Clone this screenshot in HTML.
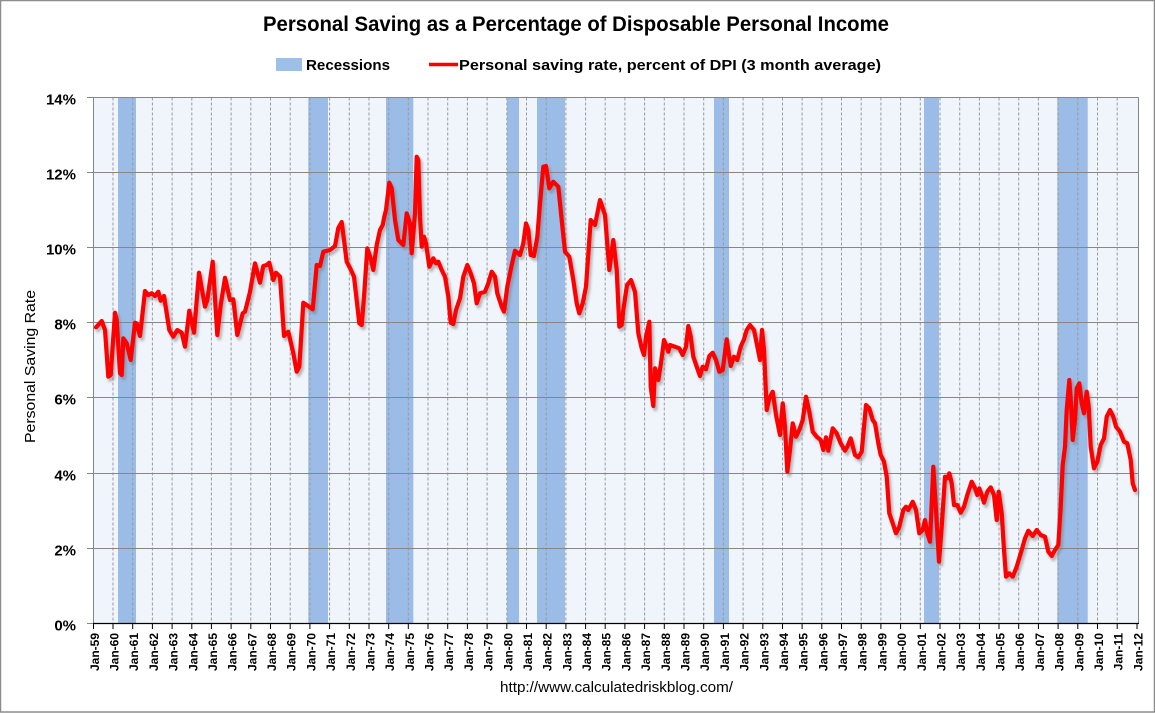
<!DOCTYPE html>
<html><head><meta charset="utf-8"><style>
html,body{margin:0;padding:0;background:#fff;}
svg{display:block;}
text{font-family:"Liberation Sans",Arial,sans-serif;fill:#000;}
</style></head><body>
<svg width="1155" height="713" viewBox="0 0 1155 713" xmlns="http://www.w3.org/2000/svg">
<defs>
<filter id="sh" x="-5%" y="-5%" width="110%" height="110%"><feGaussianBlur stdDeviation="1.4"/></filter>
</defs>
<rect x="0" y="0" width="1155" height="713" fill="#fff"/>
<rect x="0.5" y="0.5" width="1154" height="711.5" fill="none" stroke="#8c8c8c" stroke-width="1.5"/>

<!-- Title -->
<text x="263" y="31" font-size="21" font-weight="bold" textLength="626" lengthAdjust="spacingAndGlyphs">Personal Saving as a Percentage of Disposable Personal Income</text>

<!-- Legend -->
<rect x="276" y="58" width="26" height="13" fill="#9DC0E8"/>
<text x="306" y="70" font-size="15" font-weight="bold" textLength="84" lengthAdjust="spacingAndGlyphs">Recessions</text>
<line x1="429" y1="64.5" x2="458" y2="64.5" stroke="#ff0000" stroke-width="3.5"/>
<text x="459" y="70" font-size="15" font-weight="bold" textLength="422" lengthAdjust="spacingAndGlyphs">Personal saving rate, percent of DPI (3 month average)</text>

<!-- Plot background -->
<rect x="93.5" y="97.5" width="1045" height="526" fill="#F0F5FB"/>

<!-- Recession bands -->
<g fill="#9BBCE6">
<rect x="118" y="97.5" width="18" height="526"/>
<rect x="308.3" y="97.5" width="19.7" height="526"/>
<rect x="386" y="97.5" width="27.3" height="526"/>
<rect x="507" y="97.5" width="12" height="526"/>
<rect x="537" y="97.5" width="28" height="526"/>
<rect x="714" y="97.5" width="15" height="526"/>
<rect x="924" y="97.5" width="15" height="526"/>
<rect x="1057.3" y="97.5" width="30.4" height="526"/>
</g>

<!-- Vertical dashed gridlines -->
<path fill="none" stroke="#9a9a9a" stroke-width="1" stroke-dasharray="3,2" d="M113,97.5V623 M132.7,97.5V623 M152.4,97.5V623 M172.1,97.5V623 M191.8,97.5V623 M211.4,97.5V623 M231.1,97.5V623 M250.8,97.5V623 M270.5,97.5V623 M290.2,97.5V623 M309.9,97.5V623 M329.6,97.5V623 M349.3,97.5V623 M369,97.5V623 M388.7,97.5V623 M408.3,97.5V623 M428,97.5V623 M447.7,97.5V623 M467.4,97.5V623 M487.1,97.5V623 M506.8,97.5V623 M526.5,97.5V623 M546.2,97.5V623 M565.9,97.5V623 M585.6,97.5V623 M605.2,97.5V623 M624.9,97.5V623 M644.6,97.5V623 M664.3,97.5V623 M684,97.5V623 M703.7,97.5V623 M723.4,97.5V623 M743.1,97.5V623 M762.8,97.5V623 M782.5,97.5V623 M802.1,97.5V623 M821.8,97.5V623 M841.5,97.5V623 M861.2,97.5V623 M880.9,97.5V623 M900.6,97.5V623 M920.3,97.5V623 M940,97.5V623 M959.7,97.5V623 M979.4,97.5V623 M999,97.5V623 M1018.7,97.5V623 M1038.4,97.5V623 M1058.1,97.5V623 M1077.8,97.5V623 M1097.5,97.5V623 M1117.2,97.5V623"/>

<!-- Horizontal gridlines -->
<path fill="none" stroke="#868686" stroke-width="1" d="M93.5,97.5H1138.5 M93.5,172.5H1138.5 M93.5,247.5H1138.5 M93.5,322.5H1138.5 M93.5,397.5H1138.5 M93.5,473.5H1138.5 M93.5,548.5H1138.5"/>
<!-- Axes -->
<path fill="none" stroke="#868686" stroke-width="1" d="M93.5,97.5V623.5 M1138.5,97.5V623.5"/>
<path fill="none" stroke="#868686" stroke-width="1" d="M87,97.5H93.5 M87,172.5H93.5 M87,247.5H93.5 M87,322.5H93.5 M87,397.5H93.5 M87,473.5H93.5 M87,548.5H93.5 M87,623.5H93.5"/>
<path fill="none" stroke="#000" stroke-width="1.2" d="M93,623.5H1139"/>
<path fill="none" stroke="#000" stroke-width="1" d="M93.5,623V629 M113,623V629 M132.7,623V629 M152.4,623V629 M172.1,623V629 M191.8,623V629 M211.4,623V629 M231.1,623V629 M250.8,623V629 M270.5,623V629 M290.2,623V629 M309.9,623V629 M329.6,623V629 M349.3,623V629 M369,623V629 M388.7,623V629 M408.3,623V629 M428,623V629 M447.7,623V629 M467.4,623V629 M487.1,623V629 M506.8,623V629 M526.5,623V629 M546.2,623V629 M565.9,623V629 M585.6,623V629 M605.2,623V629 M624.9,623V629 M644.6,623V629 M664.3,623V629 M684,623V629 M703.7,623V629 M723.4,623V629 M743.1,623V629 M762.8,623V629 M782.5,623V629 M802.1,623V629 M821.8,623V629 M841.5,623V629 M861.2,623V629 M880.9,623V629 M900.6,623V629 M920.3,623V629 M940,623V629 M959.7,623V629 M979.4,623V629 M999,623V629 M1018.7,623V629 M1038.4,623V629 M1058.1,623V629 M1077.8,623V629 M1097.5,623V629 M1117.2,623V629 M1137,623V629"/>

<!-- Series -->
<g id="series">
<polyline filter="url(#sh)" transform="translate(2,3)" fill="none" stroke="#777" stroke-opacity="0.5" stroke-width="4.5" stroke-linejoin="round" stroke-linecap="round" points="96,327.3 101.7,321 105,330 108.3,376.7 110.7,375 115,312.7 116.7,320 120,373.3 121.7,375 123.3,338.3 126.7,343.3 130.7,360 135,322.7 136.7,323.3 140,336 145,291 148.3,295 151.7,293.3 155,296 158.3,291.7 160.7,300.7 164,296 169.3,330 173.3,336.7 177.3,330 181.7,332.7 185,346.7 189.3,310.7 194,332.7 199,272.7 205,306.7 207.3,300 212.7,261.7 217.3,335 220.7,305 225,277.7 230,300 233.3,299.3 237.3,335 242.7,313.3 245,311.7 250,291.7 255,263.3 260,282.7 263.3,266 266.7,265 269.3,262.7 273.3,280 276,272.7 280,276.7 284,336 288.3,331.7 293.3,353.3 296.7,371.7 299.3,366.7 303.3,302.7 306.7,305 312.7,309.3 316.7,265 320,266 323.3,251.7 330,250 335,246 338.3,228 341.7,222 346.7,261.7 350,268 354,276.7 359.3,323.3 361.7,325 364,296.7 367.3,248.3 370.7,258.3 373.3,270 376.7,245 380,230 382.7,225 384.3,216.7 386,210 389.3,182.7 391.7,188.3 395,220 398.3,240 403.3,245 406.7,213.3 410,223.3 411.7,253.3 415,213.3 416.7,156.7 418.3,160 420,216.7 421.7,246.7 424,236.7 426,243.3 429.3,266.7 433.3,258.3 436,263.3 438.3,261.7 441.7,270 445,276.7 448.3,296.7 450.7,322.7 453.3,324 456,310 460,298.3 463.3,276.7 467.3,265 470.7,273.3 474,283.3 476.7,303.3 480,293.3 485,291.7 488.3,283.3 491.7,271.7 495,276.7 497.3,293.3 501.7,306.7 504,311.7 507.3,286.7 511.7,265 515,250.7 520,255 523.3,243.3 526,223.3 528.3,230 530.7,255 534,256 537.3,236.7 540,203.3 543.3,166.7 546,166 549.3,188.3 553.3,181.7 558.3,186.7 561.7,220 565,251.7 569.3,256.7 573.3,280 576.7,303.3 579.3,313.3 582.7,303.3 586,286.7 590.7,220 595,225 600,200 605,215 609.3,270 613.3,240 616.7,270 619.3,326.7 621.7,325 623.3,310 627,285 631,280 635,292 638.3,333.3 641.7,348.3 644,355 646,336.7 649.3,321.7 650.7,386.7 653.3,406 655,368.3 658.3,380 660.7,365 664,340 666.7,346.7 668.3,351.7 670,345 675,346.7 679.3,348.3 682.7,355 686,346.7 688.3,326 690.7,336.7 693.3,356.7 696.7,366.7 700,376 702.7,366.7 706,369.3 709.3,356 712.7,352.7 716,360 719.3,371.7 722.7,370 726.7,339.3 730.7,366 734,356.7 737.3,360 740.7,346.7 744,339.3 746.7,330 750,325 754,330 756.7,343.3 760,360 762,330 764,350 766.7,410 769.3,398.3 772.7,391.7 776,415 780,435 782.7,403.3 785,426.7 787.3,471.7 790,450 792.7,423.3 796,436.7 799.3,430 802.7,420 806,396.7 809.3,411.7 812.7,431.7 816.7,436.7 820.7,440 823.3,450 826,437.3 828.3,450.7 832.7,428.3 836.7,433.3 840.7,443.3 845,450.7 847.3,446.7 850.7,438.3 855,455 858.3,457.3 861.7,451.7 866,405 869.3,408.3 872.7,420 875,423.3 878.3,443.3 880.7,455 884,461.7 886.7,476.7 889.3,513.3 892.7,523.3 896,533.3 899.3,526.7 903.3,510 906,506.7 908.3,510 912.7,501.7 916,510 919.3,533.3 922.7,530 925,520 927.3,533.3 930,541.7 933.3,466.7 936,510 939,561.7 941.7,526.7 945,476.7 947.3,478.3 949.3,473.3 951.7,483.3 954,505 957.3,505 960.7,512.7 964,506.7 967.3,495 971.7,481.7 975,488.3 977.3,495 979.3,488.3 981.7,495 984,502.7 987.3,491.7 990.7,487.3 994,495 996.7,520 998.7,491.7 1001.7,513.3 1004,550 1006,576.7 1009.3,573.3 1012.7,576.7 1016.7,566.7 1021.7,550 1025,538.3 1028.3,530.7 1032.7,536 1036.7,530 1040.7,535 1045,536.7 1048.3,551.7 1051.7,556 1055,550 1058.3,545 1060.7,506.7 1062.7,465 1065,446.7 1066.7,410 1069.3,380 1071,403.3 1072.7,440 1075,420 1076.7,388.3 1079.3,383.3 1081.7,403.3 1084,413.3 1086.7,391.7 1088.7,406.7 1090.7,446.7 1094,468.3 1097.3,461.7 1100.7,445 1104,438.3 1106.7,416.7 1110,410 1113.3,416.7 1116,426.7 1120,431.7 1124,441.7 1127.3,443.3 1130.7,460 1132.7,483.3 1135,490"/>
<polyline fill="none" stroke="#ff0000" stroke-width="4.2" stroke-linejoin="round" stroke-linecap="round" points="96,327.3 101.7,321 105,330 108.3,376.7 110.7,375 115,312.7 116.7,320 120,373.3 121.7,375 123.3,338.3 126.7,343.3 130.7,360 135,322.7 136.7,323.3 140,336 145,291 148.3,295 151.7,293.3 155,296 158.3,291.7 160.7,300.7 164,296 169.3,330 173.3,336.7 177.3,330 181.7,332.7 185,346.7 189.3,310.7 194,332.7 199,272.7 205,306.7 207.3,300 212.7,261.7 217.3,335 220.7,305 225,277.7 230,300 233.3,299.3 237.3,335 242.7,313.3 245,311.7 250,291.7 255,263.3 260,282.7 263.3,266 266.7,265 269.3,262.7 273.3,280 276,272.7 280,276.7 284,336 288.3,331.7 293.3,353.3 296.7,371.7 299.3,366.7 303.3,302.7 306.7,305 312.7,309.3 316.7,265 320,266 323.3,251.7 330,250 335,246 338.3,228 341.7,222 346.7,261.7 350,268 354,276.7 359.3,323.3 361.7,325 364,296.7 367.3,248.3 370.7,258.3 373.3,270 376.7,245 380,230 382.7,225 384.3,216.7 386,210 389.3,182.7 391.7,188.3 395,220 398.3,240 403.3,245 406.7,213.3 410,223.3 411.7,253.3 415,213.3 416.7,156.7 418.3,160 420,216.7 421.7,246.7 424,236.7 426,243.3 429.3,266.7 433.3,258.3 436,263.3 438.3,261.7 441.7,270 445,276.7 448.3,296.7 450.7,322.7 453.3,324 456,310 460,298.3 463.3,276.7 467.3,265 470.7,273.3 474,283.3 476.7,303.3 480,293.3 485,291.7 488.3,283.3 491.7,271.7 495,276.7 497.3,293.3 501.7,306.7 504,311.7 507.3,286.7 511.7,265 515,250.7 520,255 523.3,243.3 526,223.3 528.3,230 530.7,255 534,256 537.3,236.7 540,203.3 543.3,166.7 546,166 549.3,188.3 553.3,181.7 558.3,186.7 561.7,220 565,251.7 569.3,256.7 573.3,280 576.7,303.3 579.3,313.3 582.7,303.3 586,286.7 590.7,220 595,225 600,200 605,215 609.3,270 613.3,240 616.7,270 619.3,326.7 621.7,325 623.3,310 627,285 631,280 635,292 638.3,333.3 641.7,348.3 644,355 646,336.7 649.3,321.7 650.7,386.7 653.3,406 655,368.3 658.3,380 660.7,365 664,340 666.7,346.7 668.3,351.7 670,345 675,346.7 679.3,348.3 682.7,355 686,346.7 688.3,326 690.7,336.7 693.3,356.7 696.7,366.7 700,376 702.7,366.7 706,369.3 709.3,356 712.7,352.7 716,360 719.3,371.7 722.7,370 726.7,339.3 730.7,366 734,356.7 737.3,360 740.7,346.7 744,339.3 746.7,330 750,325 754,330 756.7,343.3 760,360 762,330 764,350 766.7,410 769.3,398.3 772.7,391.7 776,415 780,435 782.7,403.3 785,426.7 787.3,471.7 790,450 792.7,423.3 796,436.7 799.3,430 802.7,420 806,396.7 809.3,411.7 812.7,431.7 816.7,436.7 820.7,440 823.3,450 826,437.3 828.3,450.7 832.7,428.3 836.7,433.3 840.7,443.3 845,450.7 847.3,446.7 850.7,438.3 855,455 858.3,457.3 861.7,451.7 866,405 869.3,408.3 872.7,420 875,423.3 878.3,443.3 880.7,455 884,461.7 886.7,476.7 889.3,513.3 892.7,523.3 896,533.3 899.3,526.7 903.3,510 906,506.7 908.3,510 912.7,501.7 916,510 919.3,533.3 922.7,530 925,520 927.3,533.3 930,541.7 933.3,466.7 936,510 939,561.7 941.7,526.7 945,476.7 947.3,478.3 949.3,473.3 951.7,483.3 954,505 957.3,505 960.7,512.7 964,506.7 967.3,495 971.7,481.7 975,488.3 977.3,495 979.3,488.3 981.7,495 984,502.7 987.3,491.7 990.7,487.3 994,495 996.7,520 998.7,491.7 1001.7,513.3 1004,550 1006,576.7 1009.3,573.3 1012.7,576.7 1016.7,566.7 1021.7,550 1025,538.3 1028.3,530.7 1032.7,536 1036.7,530 1040.7,535 1045,536.7 1048.3,551.7 1051.7,556 1055,550 1058.3,545 1060.7,506.7 1062.7,465 1065,446.7 1066.7,410 1069.3,380 1071,403.3 1072.7,440 1075,420 1076.7,388.3 1079.3,383.3 1081.7,403.3 1084,413.3 1086.7,391.7 1088.7,406.7 1090.7,446.7 1094,468.3 1097.3,461.7 1100.7,445 1104,438.3 1106.7,416.7 1110,410 1113.3,416.7 1116,426.7 1120,431.7 1124,441.7 1127.3,443.3 1130.7,460 1132.7,483.3 1135,490"/>
</g>

<!-- Y tick labels -->
<g font-size="15" font-weight="bold" text-anchor="end">
<text x="76" y="104.5">14%</text>
<text x="76" y="179.5">12%</text>
<text x="76" y="254.5">10%</text>
<text x="76" y="329.5">8%</text>
<text x="76" y="404.5">6%</text>
<text x="76" y="480.5">4%</text>
<text x="76" y="555.5">2%</text>
<text x="76" y="630.5">0%</text>
</g>

<!-- Y axis title -->
<text transform="translate(35,443) rotate(-90)" font-size="15" textLength="153" lengthAdjust="spacingAndGlyphs">Personal Saving Rate</text>

<!-- X tick labels -->
<g font-size="12" font-weight="bold" text-anchor="end">
<text transform="translate(98.8,633) rotate(-90)">Jan-59</text>
<text transform="translate(118.5,633) rotate(-90)">Jan-60</text>
<text transform="translate(138.2,633) rotate(-90)">Jan-61</text>
<text transform="translate(157.9,633) rotate(-90)">Jan-62</text>
<text transform="translate(177.6,633) rotate(-90)">Jan-63</text>
<text transform="translate(197.3,633) rotate(-90)">Jan-64</text>
<text transform="translate(216.9,633) rotate(-90)">Jan-65</text>
<text transform="translate(236.6,633) rotate(-90)">Jan-66</text>
<text transform="translate(256.3,633) rotate(-90)">Jan-67</text>
<text transform="translate(276,633) rotate(-90)">Jan-68</text>
<text transform="translate(295.7,633) rotate(-90)">Jan-69</text>
<text transform="translate(315.4,633) rotate(-90)">Jan-70</text>
<text transform="translate(335.1,633) rotate(-90)">Jan-71</text>
<text transform="translate(354.8,633) rotate(-90)">Jan-72</text>
<text transform="translate(374.5,633) rotate(-90)">Jan-73</text>
<text transform="translate(394.2,633) rotate(-90)">Jan-74</text>
<text transform="translate(413.8,633) rotate(-90)">Jan-75</text>
<text transform="translate(433.5,633) rotate(-90)">Jan-76</text>
<text transform="translate(453.2,633) rotate(-90)">Jan-77</text>
<text transform="translate(472.9,633) rotate(-90)">Jan-78</text>
<text transform="translate(492.6,633) rotate(-90)">Jan-79</text>
<text transform="translate(512.3,633) rotate(-90)">Jan-80</text>
<text transform="translate(532,633) rotate(-90)">Jan-81</text>
<text transform="translate(551.7,633) rotate(-90)">Jan-82</text>
<text transform="translate(571.4,633) rotate(-90)">Jan-83</text>
<text transform="translate(591.1,633) rotate(-90)">Jan-84</text>
<text transform="translate(610.7,633) rotate(-90)">Jan-85</text>
<text transform="translate(630.4,633) rotate(-90)">Jan-86</text>
<text transform="translate(650.1,633) rotate(-90)">Jan-87</text>
<text transform="translate(669.8,633) rotate(-90)">Jan-88</text>
<text transform="translate(689.5,633) rotate(-90)">Jan-89</text>
<text transform="translate(709.2,633) rotate(-90)">Jan-90</text>
<text transform="translate(728.9,633) rotate(-90)">Jan-91</text>
<text transform="translate(748.6,633) rotate(-90)">Jan-92</text>
<text transform="translate(768.3,633) rotate(-90)">Jan-93</text>
<text transform="translate(788,633) rotate(-90)">Jan-94</text>
<text transform="translate(807.6,633) rotate(-90)">Jan-95</text>
<text transform="translate(827.3,633) rotate(-90)">Jan-96</text>
<text transform="translate(847,633) rotate(-90)">Jan-97</text>
<text transform="translate(866.7,633) rotate(-90)">Jan-98</text>
<text transform="translate(886.4,633) rotate(-90)">Jan-99</text>
<text transform="translate(906.1,633) rotate(-90)">Jan-00</text>
<text transform="translate(925.8,633) rotate(-90)">Jan-01</text>
<text transform="translate(945.5,633) rotate(-90)">Jan-02</text>
<text transform="translate(965.2,633) rotate(-90)">Jan-03</text>
<text transform="translate(984.9,633) rotate(-90)">Jan-04</text>
<text transform="translate(1004.5,633) rotate(-90)">Jan-05</text>
<text transform="translate(1024.2,633) rotate(-90)">Jan-06</text>
<text transform="translate(1043.9,633) rotate(-90)">Jan-07</text>
<text transform="translate(1063.6,633) rotate(-90)">Jan-08</text>
<text transform="translate(1083.3,633) rotate(-90)">Jan-09</text>
<text transform="translate(1103,633) rotate(-90)">Jan-10</text>
<text transform="translate(1122.7,633) rotate(-90)">Jan-11</text>
<text transform="translate(1142.4,633) rotate(-90)">Jan-12</text>
</g>

<!-- Footer -->
<text x="500" y="692" font-size="15" fill="#222" textLength="233" lengthAdjust="spacingAndGlyphs">http://www.calculatedriskblog.com/</text>
</svg>
</body></html>
